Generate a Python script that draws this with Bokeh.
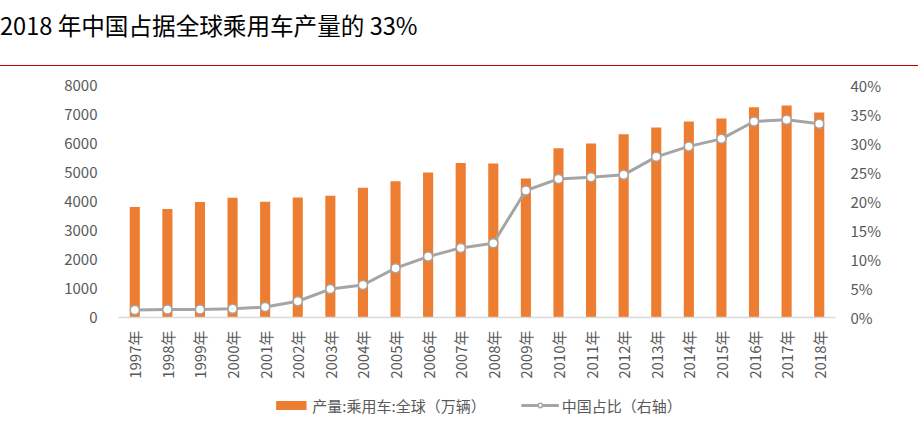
import math
from bokeh.plotting import figure
from bokeh.models import (ColumnDataSource, FactorRange, Range1d, LinearAxis, FixedTicker,
                          PrintfTickFormatter, Legend, LegendItem, Div)
from bokeh.layouts import column
from bokeh.embed import file_html
from bokeh.resources import INLINE

TITLE = "2018 年中国占据全球乘用车产量的 33%"
years = ["1997年", "1998年", "1999年", "2000年", "2001年", "2002年", "2003年", "2004年",
         "2005年", "2006年", "2007年", "2008年", "2009年", "2010年", "2011年", "2012年",
         "2013年", "2014年", "2015年", "2016年", "2017年", "2018年"]
output = [3810, 3740, 3980, 4130, 3995, 4140, 4200, 4470, 4700, 5000, 5330,
          5310, 4790, 5840, 6000, 6320, 6550, 6760, 6860, 7250, 7310, 7070]
share = [1.3, 1.4, 1.4, 1.5, 1.8, 2.8, 4.9, 5.6, 8.5, 10.5, 12.0,
         12.8, 21.9, 23.9, 24.2, 24.6, 27.7, 29.5, 30.8, 33.8, 34.1, 33.4]
left_ticks = [0, 1000, 2000, 3000, 4000, 5000, 6000, 7000, 8000]
right_ticks = [0, 5, 10, 15, 20, 25, 30, 35, 40]
bar_label = "产量:乘用车:全球（万辆）"
line_label = "中国占比（右轴）"

FONT = "Noto Sans CJK SC"
GRAY = "#595959"
BAR_COLOR = "#ED7D31"
LINE_COLOR = "#A5A5A5"

# ---- header: title + red rule (rule drawn as a background stripe at the bottom) ----
header = Div(text=TITLE, width=918, height=66,
             styles={"font-family": FONT, "font-size": "23.6px", "color": "#000000",
                     "line-height": "51px", "margin": "0", "padding": "0",
                     "background": "linear-gradient(#C00000, #C00000) left bottom / 100% 1.5px no-repeat",
                     "white-space": "nowrap"})

# ---- main chart ----
src = ColumnDataSource(dict(year=years, output=output, share=share))

p = figure(x_range=FactorRange(*years), y_range=Range1d(0, 8000),
           frame_width=717, frame_height=232, output_backend="svg", toolbar_location=None,
           min_border_left=118, min_border_right=83, min_border_top=19, min_border_bottom=75)
p.extra_y_ranges = {"pct": Range1d(0, 40)}
p.grid.visible = False
p.outline_line_color = None

p.vbar(x="year", top="output", width=0.31, source=src, fill_color=BAR_COLOR, line_color=None)
p.line(x="year", y="share", source=src, y_range_name="pct", line_color=LINE_COLOR, line_width=3)
p.scatter(x="year", y="share", source=src, y_range_name="pct", size=9,
          fill_color="white", line_color=LINE_COLOR, line_width=1.5)

def style_axis(ax, standoff):
    ax.major_tick_line_color = None
    ax.minor_tick_line_color = None
    ax.major_tick_out = 0
    ax.major_tick_in = 0
    ax.minor_tick_out = 0
    ax.minor_tick_in = 0
    ax.major_label_standoff = standoff
    ax.major_label_text_font = FONT
    ax.major_label_text_font_size = "15px"
    ax.major_label_text_color = GRAY

# left axis
ya = p.yaxis[0]
ya.ticker = FixedTicker(ticks=left_ticks)
ya.axis_line_color = None
style_axis(ya, 21)

# right axis
ra = LinearAxis(y_range_name="pct", ticker=FixedTicker(ticks=right_ticks),
                formatter=PrintfTickFormatter(format="%d%%"))
ra.axis_line_color = None
style_axis(ra, 15)
p.add_layout(ra, "right")

# x axis
xa = p.xaxis[0]
xa.axis_line_color = "#D9D9D9"
xa.axis_line_width = 1.3
style_axis(xa, 13)
xa.major_label_orientation = math.pi / 2

# ---- legend strip: its own small figure; key renderers hold one empty (NaN) row ----
lg = figure(x_range=Range1d(0, 1), y_range=Range1d(0, 1),
            frame_width=717, frame_height=26, output_backend="svg", toolbar_location=None,
            min_border_left=118, min_border_right=83, min_border_top=0, min_border_bottom=0,
            x_axis_location=None, y_axis_location=None)
lg.grid.visible = False
lg.outline_line_color = None
key_src = ColumnDataSource(dict(x=[float("nan")], y=[float("nan")]))
k_bar = lg.vbar(x="x", top="y", width=0.31, source=key_src, fill_color=BAR_COLOR, line_color=None)
k_line = lg.line(x="x", y="y", source=key_src, line_color=LINE_COLOR, line_width=3)
k_pts = lg.scatter(x="x", y="y", source=key_src, size=9, fill_color="white",
                   line_color=LINE_COLOR, line_width=1.5)

legend = Legend(items=[LegendItem(label=bar_label, renderers=[k_bar]),
                       LegendItem(label=line_label, renderers=[k_line, k_pts])],
                location="center", orientation="horizontal",
                glyph_width=38, glyph_height=11, label_height=16, label_standoff=3, spacing=35,
                padding=0, margin=0, border_line_color=None, background_fill_alpha=0,
                label_text_font=FONT, label_text_font_size="15px", label_text_color=GRAY)
lg.add_layout(legend, "center")

layout = column(header, p, lg, spacing=0)
open("out.html", "w").write(file_html(layout, INLINE))
